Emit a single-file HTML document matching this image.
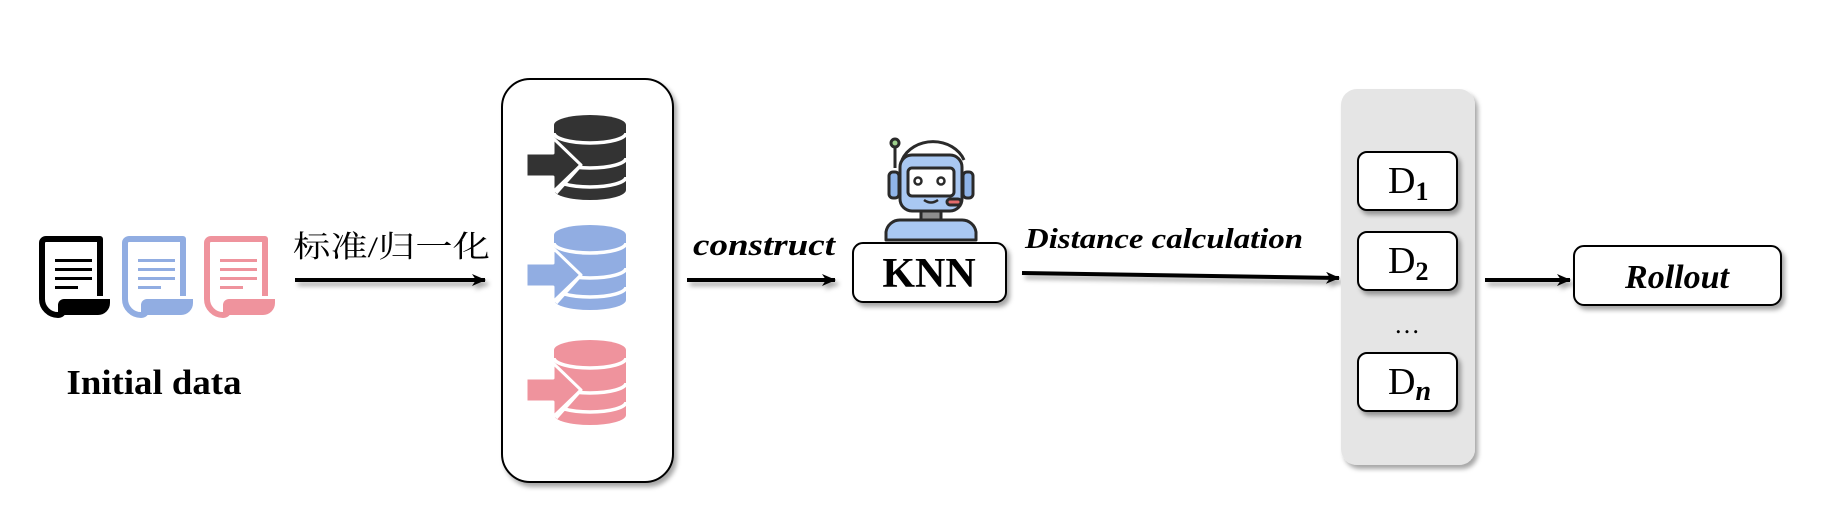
<!DOCTYPE html>
<html><head><meta charset="utf-8"><style>
html,body{margin:0;padding:0;background:#fff;}
svg{display:block;}
</style></head><body>
<svg width="1847" height="512" viewBox="0 0 1847 512" xmlns="http://www.w3.org/2000/svg">
<defs>
<filter id="sh" filterUnits="userSpaceOnUse" x="0" y="0" width="1847" height="512"><feDropShadow dx="3" dy="4" stdDeviation="2.5" flood-color="#000" flood-opacity="0.35"/></filter>
<marker id="ah" markerWidth="14" markerHeight="12" refX="13" refY="6" orient="auto" markerUnits="userSpaceOnUse"><path d="M0,0 L14,6 L0,12 L4,6 Z" fill="#000"/></marker>
<g id="doc">
<path d="M8,2 h54 v57" fill="none" stroke="currentColor" stroke-width="6" stroke-linejoin="round"/>
<path d="M8,2 a4,4 0 0 0 -4,4 v56 a16,16 0 0 0 16,16" fill="none" stroke="currentColor" stroke-width="6"/>
<path d="M20,78 h40 a12,12 0 0 0 12,-12 v-4 h-46 a6,6 0 0 0 -6,6 v10z" fill="currentColor"/>
<path d="M20,78 q6,0 6,-10" fill="none" stroke="currentColor" stroke-width="6"/>
<rect x="17" y="22" width="37" height="3" fill="currentColor"/>
<rect x="17" y="31" width="37" height="3" fill="currentColor"/>
<rect x="17" y="40" width="37" height="3" fill="currentColor"/>
<rect x="17" y="49" width="23" height="3" fill="currentColor"/>
</g>
<g id="db">
<path d="M28,10 a36,10 0 0 1 72,0 v65 a36,10 0 0 1 -72,0 Z" fill="currentColor"/>
<path d="M28,18 a36,10 0 0 0 72,0 M28,43 a36,10 0 0 0 72,0 M28,62 a36,10 0 0 0 72,0" fill="none" stroke="#fff" stroke-width="3.5"/>
<path d="M0,38 h27 v-15 l28,27 l-28,27 v-15 h-27 Z" fill="currentColor" stroke="#fff" stroke-width="3" stroke-linejoin="round"/>
<path d="M55,50 l-25,28" stroke="#fff" stroke-width="3.5"/>
</g>
</defs>

<!-- documents -->
<use href="#doc" x="38" y="237" style="color:#000"/>
<use href="#doc" x="121" y="237" style="color:#91ade2"/>
<use href="#doc" x="203" y="237" style="color:#ef939d"/>
<text x="154" y="394" text-anchor="middle" font-family="Liberation Serif" font-weight="bold" font-size="35" textLength="175" lengthAdjust="spacingAndGlyphs">Initial data</text>

<!-- label arrow 1 -->
<text x="293" y="257" font-family="'Liberation Serif','Noto Serif CJK SC',serif" font-size="30" textLength="197" lengthAdjust="spacingAndGlyphs">标准/归一化</text>
<line x1="295" y1="280" x2="485" y2="280" stroke="#000" stroke-width="4" marker-end="url(#ah)" filter="url(#sh)"/>

<!-- DB box -->
<rect x="502" y="79" width="171" height="403" rx="28" fill="#fff" stroke="#000" stroke-width="2" filter="url(#sh)"/>
<use href="#db" x="526" y="115" style="color:#333"/>
<use href="#db" x="526" y="225" style="color:#91ade2"/>
<use href="#db" x="526" y="340" style="color:#ef939d"/>

<!-- construct -->
<text x="693" y="255" font-family="Liberation Serif" font-style="italic" font-weight="bold" font-size="31" textLength="142" lengthAdjust="spacingAndGlyphs">construct</text>
<line x1="687" y1="280" x2="835" y2="280" stroke="#000" stroke-width="4" marker-end="url(#ah)" filter="url(#sh)"/>

<!-- robot -->
<g stroke="#2a2a2a" stroke-width="3" stroke-linejoin="round">
<line x1="895" y1="144" x2="895" y2="168"/>
<circle cx="895" cy="143" r="4" fill="#9ed08c"/>
<path d="M902,160 a33,28 0 0 1 62,0" fill="none"/>
<rect x="889" y="172" width="10" height="26" rx="4" fill="#8fb4e8"/>
<rect x="963" y="172" width="10" height="26" rx="4" fill="#8fb4e8"/>
<rect x="900" y="155" width="62" height="56" rx="12" fill="#a9c8f2"/>
<rect x="908" y="168" width="46" height="28" rx="4" fill="#fff"/>
<rect x="921" y="211" width="20" height="9" fill="#8e8e8e"/>
<path d="M886,240 v-8 a14,14 0 0 1 14,-12 h62 a14,14 0 0 1 14,12 v8 Z" fill="#a9c8f2"/>
<rect x="947" y="199" width="14" height="6" rx="3" fill="#e36b6b"/>
</g>
<circle cx="918" cy="181" r="3.5" fill="none" stroke="#2a2a2a" stroke-width="2.5"/>
<circle cx="941" cy="181" r="3.5" fill="none" stroke="#2a2a2a" stroke-width="2.5"/>
<path d="M924,200 q7,5 14,0" fill="none" stroke="#2a2a2a" stroke-width="2.5"/>

<!-- KNN -->
<rect x="853" y="243" width="153" height="59" rx="10" fill="#fff" stroke="#000" stroke-width="2" filter="url(#sh)"/>
<text x="929" y="287" text-anchor="middle" font-family="Liberation Serif" font-weight="bold" font-size="42">KNN</text>

<!-- distance -->
<text x="1025" y="248" font-family="Liberation Serif" font-style="italic" font-weight="bold" font-size="29" textLength="278" lengthAdjust="spacingAndGlyphs">Distance calculation</text>
<line x1="1022" y1="273" x2="1339" y2="278" stroke="#000" stroke-width="4" marker-end="url(#ah)" filter="url(#sh)"/>

<!-- gray panel -->
<rect x="1341" y="89" width="134" height="376" rx="16" fill="#e5e5e5" filter="url(#sh)"/>
<g font-family="Liberation Serif" font-size="38">
<rect x="1358" y="152" width="99" height="58" rx="9" fill="#fff" stroke="#000" stroke-width="2" filter="url(#sh)"/>
<text x="1388" y="193">D<tspan font-size="26" font-weight="bold" dy="7">1</tspan></text>
<rect x="1358" y="232" width="99" height="58" rx="9" fill="#fff" stroke="#000" stroke-width="2" filter="url(#sh)"/>
<text x="1388" y="273">D<tspan font-size="26" font-weight="bold" dy="7">2</tspan></text>
<text x="1407" y="333" text-anchor="middle" font-size="26">…</text>
<rect x="1358" y="353" width="99" height="58" rx="9" fill="#fff" stroke="#000" stroke-width="2" filter="url(#sh)"/>
<text x="1388" y="394">D<tspan font-size="28" font-weight="bold" font-style="italic" dy="6">n</tspan></text>
</g>

<!-- rollout -->
<line x1="1485" y1="280" x2="1570" y2="280" stroke="#000" stroke-width="4" marker-end="url(#ah)" filter="url(#sh)"/>
<rect x="1574" y="246" width="207" height="59" rx="10" fill="#fff" stroke="#000" stroke-width="2" filter="url(#sh)"/>
<text x="1677" y="288" text-anchor="middle" font-family="Liberation Serif" font-style="italic" font-weight="bold" font-size="34">Rollout</text>
</svg>
</body></html>
